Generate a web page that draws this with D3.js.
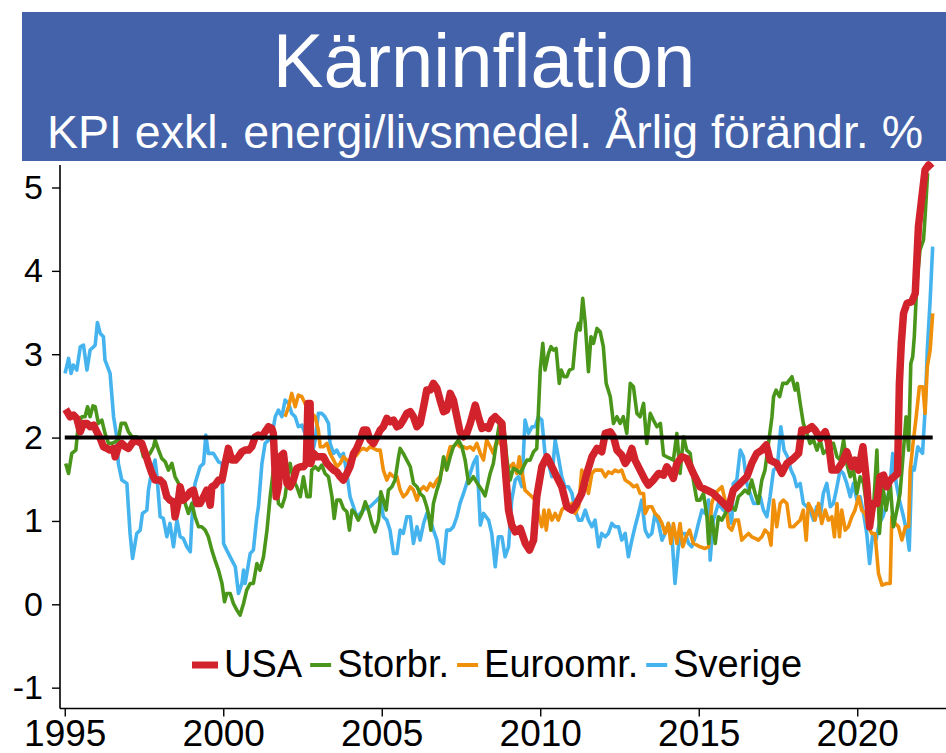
<!DOCTYPE html>
<html><head><meta charset="utf-8">
<script src="https://cdn.jsdelivr.net/npm/d3@7"></script>
<style>
html,body{margin:0;padding:0;background:#fff;}
svg{display:block;}
</style></head>
<body>
<svg id="chart" width="946" height="753"></svg>
<script>
const titleText = "Kärninflation";
const subtitleText = "KPI exkl. energi/livsmedel. Årlig förändr. %";
const seriesNames = ["USA", "Storbr.", "Euroomr.", "Sverige"];
const seriesColors = ["#D2232D", "#4A961A", "#F0900A", "#45B4EE"];
const yTicks = [-1, 0, 1, 2, 3, 4, 5];
const xTicks = [1995, 2000, 2005, 2010, 2015, 2020];
const targetValue = 2;
const targetRange = [1995.0, 2022.38];

// [decimal year, % y/y]
const usaData = [
[1995.03,2.34],[1995.17,2.25],[1995.27,2.27],[1995.38,2.23],[1995.49,2.07],[1995.59,2.17],[1995.70,2.17],[1995.80,2.13],[1995.91,2.15],
[1996.01,2.07],[1996.12,1.99],[1996.22,1.89],[1996.33,1.87],[1996.43,1.85],[1996.54,1.87],[1996.59,1.77],[1996.69,1.89],[1996.80,1.93],[1996.91,1.89],
[1997.01,1.87],[1997.12,1.93],[1997.22,1.97],[1997.32,1.95],[1997.43,1.93],[1997.54,1.81],[1997.64,1.69],[1997.75,1.57],[1997.85,1.49],
[1998.01,1.49],[1998.11,1.45],[1998.22,1.29],[1998.32,1.25],[1998.43,1.23],[1998.48,1.05],[1998.57,1.21],[1998.64,1.41],[1998.74,1.25],[1998.85,1.29],[1998.96,1.35],
[1999.06,1.37],[1999.17,1.21],[1999.27,1.21],[1999.38,1.29],[1999.48,1.37],[1999.59,1.19],[1999.64,1.41],[1999.74,1.43],[1999.85,1.49],[1999.96,1.49],
[2000.06,1.69],[2000.16,1.87],[2000.27,1.73],[2000.38,1.73],[2000.48,1.77],[2000.59,1.83],[2000.69,1.85],[2000.80,1.85],[2000.90,1.89],
[2001.01,2.01],[2001.11,2.03],[2001.22,2.01],[2001.32,2.07],[2001.43,2.13],[2001.53,2.11],[2001.58,2.05],[2001.67,1.29],[2001.74,1.41],[2001.79,1.77],[2001.90,1.81],
[2002.01,1.45],[2002.11,1.41],[2002.21,1.49],[2002.32,1.63],[2002.43,1.65],[2002.53,1.65],[2002.62,1.69],[2002.67,2.41],[2002.74,2.41],[2002.76,1.69],[2002.85,1.81],[2002.95,1.77],
[2003.06,1.77],[2003.16,1.77],[2003.27,1.69],[2003.37,1.65],[2003.48,1.61],[2003.58,1.59],[2003.69,1.53],[2003.79,1.49],[2003.90,1.57],
[2004.00,1.65],[2004.11,1.81],[2004.21,1.87],[2004.32,1.97],[2004.42,2.09],[2004.53,2.09],[2004.63,1.97],[2004.74,1.93],[2004.85,2.01],[2004.95,2.09],
[2005.05,2.13],[2005.16,2.23],[2005.26,2.19],[2005.37,2.21],[2005.48,2.13],[2005.58,2.15],[2005.68,2.21],[2005.79,2.29],[2005.90,2.31],
[2006.00,2.25],[2006.11,2.13],[2006.21,2.17],[2006.32,2.37],[2006.42,2.57],[2006.53,2.57],[2006.63,2.65],[2006.74,2.59],[2006.84,2.45],[2006.95,2.31],
[2007.05,2.33],[2007.16,2.53],[2007.26,2.45],[2007.37,2.25],[2007.47,2.07],[2007.58,2.01],[2007.68,2.05],[2007.79,2.17],[2007.95,2.39],
[2008.05,2.25],[2008.16,2.11],[2008.26,2.13],[2008.37,2.11],[2008.47,2.21],[2008.58,2.25],[2008.68,2.21],[2008.79,2.17],[2008.89,1.65],
[2009.00,1.13],[2009.10,0.95],[2009.21,0.87],[2009.37,0.91],[2009.53,0.73],[2009.66,0.65],[2009.79,0.77],[2009.89,1.29],
[2010.05,1.65],[2010.21,1.77],[2010.37,1.65],[2010.52,1.53],[2010.68,1.41],[2010.84,1.17],
[2011.00,1.13],[2011.15,1.21],[2011.31,1.33],[2011.47,1.57],[2011.63,1.77],[2011.79,1.87],[2011.94,1.83],
[2012.05,2.05],[2012.21,2.07],[2012.31,2.01],[2012.42,1.85],[2012.57,1.79],[2012.68,1.69],[2012.78,1.75],[2012.89,1.87],[2012.99,1.73],
[2013.15,1.61],[2013.31,1.49],[2013.41,1.43],[2013.57,1.49],[2013.73,1.57],[2013.89,1.55],[2013.99,1.65],
[2014.10,1.59],[2014.20,1.51],[2014.31,1.69],[2014.47,1.77],[2014.62,1.75],[2014.83,1.57],
[2015.04,1.41],[2015.26,1.37],[2015.46,1.33],[2015.68,1.25],[2015.94,1.15],
[2016.09,1.37],[2016.31,1.45],[2016.52,1.53],[2016.67,1.69],[2016.83,1.81],[2016.99,1.85],
[2017.13,1.91],[2017.25,1.73],[2017.46,1.69],[2017.62,1.57],[2017.78,1.69],[2017.99,1.75],
[2018.15,1.81],[2018.25,2.09],[2018.41,2.09],[2018.57,2.13],[2018.67,2.09],[2018.83,1.99],[2018.99,2.07],
[2019.09,1.95],[2019.20,1.61],[2019.36,1.61],[2019.51,1.69],[2019.67,1.83],[2019.83,1.65],[2019.93,1.73],
[2020.04,1.61],[2020.18,1.89],[2020.30,1.45],[2020.39,0.93],[2020.49,1.21],[2020.62,1.21],[2020.72,1.53],[2020.83,1.55],[2020.93,1.41],
[2021.04,1.49],[2021.16,1.53],[2021.27,1.57],[2021.33,2.65],[2021.39,3.13],[2021.46,3.49],[2021.57,3.61],[2021.72,3.63],[2021.83,3.73],[2021.93,4.53],
[2022.04,4.89],[2022.14,5.21],[2022.25,5.27],[2022.35,5.23]
];

const ukData = [
[1995.03,1.69],[1995.12,1.57],[1995.22,1.81],[1995.35,1.85],[1995.43,2.17],[1995.54,2.25],[1995.64,2.25],[1995.72,2.37],[1995.80,2.25],[1995.89,2.38],[1995.96,2.37],
[1996.06,2.17],[1996.17,2.21],[1996.27,2.05],[1996.38,1.93],[1996.49,1.93],[1996.59,1.95],[1996.69,1.97],[1996.78,2.17],[1996.91,2.17],
[1997.01,2.07],[1997.12,2.01],[1997.27,2.01],[1997.38,1.93],[1997.48,1.77],[1997.59,1.77],[1997.69,1.81],[1997.80,1.89],[1997.85,1.97],[1997.96,1.85],
[1998.06,1.75],[1998.17,1.71],[1998.27,1.61],[1998.38,1.69],[1998.48,1.53],[1998.59,1.45],[1998.69,1.33],[1998.80,1.21],[1998.90,1.09],
[1999.01,1.21],[1999.11,1.05],[1999.22,0.93],[1999.32,0.93],[1999.43,0.89],[1999.53,0.81],[1999.64,0.65],[1999.74,0.53],[1999.85,0.41],[1999.96,0.25],
[2000.04,0.03],[2000.11,0.13],[2000.22,0.13],[2000.32,0.01],[2000.43,-0.07],[2000.53,-0.13],[2000.64,0.01],[2000.74,0.17],[2000.85,0.25],[2000.95,0.25],
[2001.06,0.49],[2001.16,0.41],[2001.27,0.57],[2001.38,0.89],[2001.48,1.29],[2001.58,1.61],[2001.64,1.69],[2001.74,1.21],[2001.85,1.17],[2001.95,1.29],
[2002.06,1.61],[2002.11,1.69],[2002.21,1.49],[2002.32,1.41],[2002.43,1.29],[2002.53,1.53],[2002.64,1.29],[2002.74,1.29],[2002.79,1.61],[2002.90,1.65],
[2003.00,1.61],[2003.11,1.67],[2003.21,1.57],[2003.32,1.53],[2003.43,1.29],[2003.50,1.03],[2003.58,1.25],[2003.69,1.25],[2003.79,1.15],[2003.90,1.11],[2003.98,0.89],
[2004.06,1.13],[2004.16,1.09],[2004.26,1.01],[2004.37,1.09],[2004.48,1.23],[2004.58,1.13],[2004.69,0.97],[2004.79,0.87],[2004.90,1.01],[2004.97,1.35],
[2005.05,1.25],[2005.14,1.13],[2005.21,1.37],[2005.32,1.41],[2005.42,1.49],[2005.53,1.77],[2005.58,1.87],[2005.68,1.81],[2005.79,1.73],[2005.90,1.65],
[2006.00,1.45],[2006.11,1.41],[2006.21,1.33],[2006.32,1.29],[2006.42,1.17],[2006.47,1.09],[2006.55,0.89],[2006.63,1.21],[2006.74,1.37],[2006.84,1.49],[2006.95,1.77],
[2007.05,1.61],[2007.16,1.77],[2007.26,1.89],[2007.42,1.97],[2007.53,1.89],[2007.63,1.73],[2007.74,1.45],[2007.89,1.53],
[2008.05,1.43],[2008.16,1.37],[2008.26,1.30],[2008.42,1.57],[2008.52,1.69],[2008.63,1.97],[2008.73,2.21],[2008.84,2.17],[2008.95,1.73],
[2009.05,1.49],[2009.15,1.63],[2009.26,1.61],[2009.37,1.57],[2009.47,1.65],[2009.58,1.73],[2009.68,1.73],[2009.79,1.83],[2009.89,1.87],[2009.94,2.29],
[2010.00,2.81],[2010.08,3.13],[2010.15,2.81],[2010.26,3.01],[2010.34,3.09],[2010.42,3.05],[2010.50,3.07],[2010.60,2.65],[2010.66,2.81],[2010.75,2.73],[2010.84,2.73],[2010.92,2.81],
[2011.03,2.83],[2011.13,3.25],[2011.21,3.37],[2011.26,3.29],[2011.34,3.67],[2011.42,3.37],[2011.52,2.79],[2011.60,3.21],[2011.68,3.13],[2011.79,3.31],[2011.89,3.27],[2011.99,3.09],
[2012.08,2.65],[2012.21,2.49],[2012.31,2.17],[2012.42,2.25],[2012.52,2.17],[2012.62,2.25],[2012.73,2.05],[2012.84,2.65],[2012.94,2.61],
[2013.05,2.29],[2013.15,2.25],[2013.26,2.41],[2013.36,1.93],[2013.47,2.29],[2013.57,2.21],[2013.68,2.13],[2013.79,2.17],[2013.89,1.79],[2013.99,1.77],
[2014.10,1.75],[2014.20,1.73],[2014.31,2.05],[2014.41,1.57],[2014.52,2.01],[2014.62,1.85],[2014.73,1.81],[2014.83,1.49],[2014.94,1.25],
[2015.04,1.25],[2015.15,1.33],[2015.26,1.05],[2015.31,0.73],[2015.41,1.05],[2015.52,0.73],[2015.62,1.05],[2015.73,1.01],[2015.89,1.13],[2015.99,1.25],
[2016.04,1.17],[2016.15,1.13],[2016.25,1.29],[2016.36,1.33],[2016.46,1.37],[2016.57,1.33],[2016.67,1.49],[2016.78,1.33],[2016.88,1.21],[2016.99,1.49],
[2017.09,1.61],[2017.20,1.93],[2017.31,2.25],[2017.36,2.49],[2017.44,2.57],[2017.55,2.49],[2017.65,2.65],[2017.78,2.65],[2017.94,2.73],
[2018.04,2.57],[2018.11,2.65],[2018.20,2.41],[2018.30,2.17],[2018.41,2.05],[2018.51,1.93],[2018.62,1.97],[2018.73,1.85],[2018.83,1.97],[2018.93,1.81],
[2019.04,1.85],[2019.15,1.93],[2019.25,1.93],[2019.36,1.77],[2019.46,1.73],[2019.57,1.97],[2019.67,1.69],[2019.78,1.53],[2019.88,1.61],[2019.99,1.33],
[2020.09,1.53],[2020.20,1.45],[2020.30,1.17],[2020.41,1.05],[2020.51,1.13],[2020.62,1.85],[2020.70,0.85],[2020.81,1.41],[2020.91,1.13],
[2021.04,1.45],[2021.14,0.93],[2021.25,1.13],[2021.35,1.33],[2021.46,1.85],[2021.54,2.25],[2021.62,1.85],[2021.69,2.89],[2021.75,2.97],[2021.80,3.21],[2021.88,3.85],[2021.98,4.25],
[2022.09,4.37],[2022.14,4.65],[2022.22,5.17]
];

const euroData = [
[2001.95,2.25],[2002.06,2.37],[2002.16,2.53],[2002.27,2.37],[2002.37,2.51],[2002.48,2.49],[2002.58,2.41],[2002.69,2.33],[2002.79,2.29],[2002.90,2.25],
[2003.00,2.09],[2003.06,1.89],[2003.16,1.89],[2003.27,1.93],[2003.37,1.81],[2003.48,1.73],[2003.58,1.65],[2003.69,1.69],[2003.79,1.77],[2003.90,1.73],
[2004.00,1.69],[2004.11,1.77],[2004.21,1.79],[2004.32,1.85],[2004.42,1.87],[2004.53,1.85],[2004.63,1.89],[2004.74,1.87],[2004.85,1.85],[2004.95,1.85],
[2005.05,1.61],[2005.16,1.49],[2005.26,1.57],[2005.37,1.53],[2005.48,1.53],[2005.58,1.37],[2005.68,1.29],[2005.79,1.33],[2005.90,1.41],
[2006.00,1.37],[2006.11,1.25],[2006.21,1.37],[2006.32,1.41],[2006.42,1.37],[2006.53,1.45],[2006.63,1.41],[2006.74,1.49],[2006.84,1.53],[2006.95,1.69],
[2007.05,1.73],[2007.16,1.89],[2007.26,1.89],[2007.37,1.93],[2007.47,1.89],[2007.58,1.89],[2007.68,1.87],[2007.79,1.89],[2007.89,1.85],
[2008.00,1.93],[2008.11,1.81],[2008.21,1.73],[2008.31,1.97],[2008.42,1.89],[2008.52,1.81],[2008.63,1.97],[2008.73,1.93],[2008.84,1.89],[2008.95,1.65],
[2009.05,1.65],[2009.15,1.69],[2009.26,1.57],[2009.34,1.77],[2009.45,1.53],[2009.52,1.37],[2009.63,1.33],[2009.74,1.29],[2009.84,1.25],[2009.94,1.09],
[2010.05,0.93],[2010.12,1.13],[2010.19,0.89],[2010.27,1.13],[2010.37,1.01],[2010.47,1.09],[2010.57,1.01],[2010.68,1.13],[2010.78,1.17],[2010.89,1.13],
[2011.00,1.21],[2011.10,1.09],[2011.21,1.17],[2011.31,1.61],[2011.42,1.49],[2011.52,1.33],[2011.63,1.57],[2011.73,1.61],[2011.84,1.61],[2011.94,1.61],
[2012.05,1.53],[2012.15,1.59],[2012.26,1.57],[2012.36,1.61],[2012.47,1.59],[2012.57,1.61],[2012.68,1.49],[2012.84,1.45],[2012.94,1.41],
[2013.05,1.43],[2013.15,1.33],[2013.26,1.33],[2013.31,1.09],[2013.41,1.17],[2013.52,1.17],[2013.62,1.09],[2013.73,1.05],[2013.84,0.97],[2013.94,0.85],
[2014.04,0.97],[2014.12,0.73],[2014.20,0.97],[2014.31,0.73],[2014.41,0.97],[2014.50,0.69],[2014.60,0.81],[2014.71,0.89],[2014.83,0.73],[2014.94,0.71],
[2015.04,0.69],[2015.20,0.67],[2015.31,0.69],[2015.41,1.21],[2015.52,1.33],[2015.62,1.37],[2015.73,1.41],[2015.83,1.25],[2015.94,0.93],
[2016.04,0.89],[2016.15,1.01],[2016.25,1.01],[2016.36,0.77],[2016.46,0.81],[2016.57,0.85],[2016.67,0.81],[2016.78,0.79],[2016.88,0.77],[2016.99,0.81],
[2017.09,0.89],[2017.20,0.85],[2017.28,0.71],[2017.36,1.25],[2017.46,0.93],[2017.57,1.21],[2017.67,1.25],[2017.78,1.21],[2017.88,0.93],[2017.99,0.93],
[2018.09,0.97],[2018.20,1.01],[2018.30,1.13],[2018.39,0.77],[2018.46,1.21],[2018.57,1.13],[2018.67,1.01],[2018.78,1.21],[2018.88,0.97],[2018.99,1.13],
[2019.09,1.01],[2019.20,1.05],[2019.28,0.81],[2019.36,1.21],[2019.44,0.81],[2019.51,1.13],[2019.62,0.89],[2019.72,0.93],[2019.83,1.05],[2019.93,1.13],
[2020.04,1.29],[2020.14,1.13],[2020.25,1.09],[2020.35,0.93],[2020.46,0.85],[2020.56,0.85],[2020.67,0.37],[2020.78,0.23],[2020.93,0.25],
[2021.04,0.25],[2021.09,1.05],[2021.20,0.97],[2021.30,0.93],[2021.41,0.77],[2021.52,0.93],[2021.62,0.93],[2021.67,1.61],[2021.76,1.93],[2021.86,2.25],[2021.96,2.61],
[2022.07,2.61],[2022.14,2.29],[2022.21,2.85],[2022.30,3.05],[2022.38,3.49]
];

const sweData = [
[1995.01,2.77],[1995.12,2.95],[1995.20,2.77],[1995.27,2.87],[1995.38,2.81],[1995.49,3.09],[1995.59,3.11],[1995.70,2.81],[1995.80,3.05],[1995.91,3.09],[1995.96,3.11],
[1996.03,3.38],[1996.12,3.25],[1996.22,3.21],[1996.27,2.93],[1996.43,2.77],[1996.54,2.25],[1996.64,2.01],[1996.69,1.69],[1996.80,1.49],[1996.96,1.45],
[1997.06,0.85],[1997.14,0.55],[1997.27,0.85],[1997.38,0.89],[1997.45,1.09],[1997.59,1.13],[1997.64,1.37],[1997.75,1.61],[1997.85,1.73],[1997.91,1.53],
[1998.01,1.05],[1998.11,1.03],[1998.22,0.81],[1998.32,0.97],[1998.43,0.69],[1998.54,1.01],[1998.64,0.81],[1998.74,0.79],[1998.85,0.69],[1998.96,0.63],
[1999.01,1.01],[1999.11,1.45],[1999.27,1.65],[1999.38,1.69],[1999.45,2.03],[1999.53,1.81],[1999.69,1.81],[1999.85,1.71],[1999.96,1.69],
[2000.01,0.73],[2000.11,0.65],[2000.27,0.53],[2000.38,0.45],[2000.48,0.13],[2000.59,0.25],[2000.64,0.41],[2000.69,0.25],[2000.85,0.61],[2000.95,0.65],
[2001.06,1.05],[2001.11,1.17],[2001.22,1.69],[2001.32,1.93],[2001.43,1.97],[2001.53,2.01],[2001.64,2.25],[2001.74,2.33],[2001.85,2.25],[2001.95,2.45],
[2002.06,2.41],[2002.16,2.29],[2002.27,2.25],[2002.37,2.13],[2002.48,2.15],[2002.58,2.05],[2002.69,1.85],[2002.79,1.77],[2002.90,1.97],
[2003.00,2.29],[2003.11,2.29],[2003.21,2.25],[2003.32,2.17],[2003.37,1.93],[2003.48,1.81],[2003.58,1.85],[2003.69,1.77],[2003.79,1.81],[2003.90,1.57],
[2004.00,1.29],[2004.11,1.17],[2004.21,1.05],[2004.32,1.09],[2004.42,1.13],[2004.53,1.17],[2004.63,1.17],[2004.74,1.21],[2004.85,1.25],[2004.95,1.29],
[2005.05,1.05],[2005.16,1.01],[2005.26,0.89],[2005.37,0.61],[2005.48,0.61],[2005.58,0.89],[2005.68,0.85],[2005.79,1.05],[2005.90,1.05],
[2006.00,0.73],[2006.11,0.93],[2006.21,0.77],[2006.32,0.97],[2006.42,1.09],[2006.53,1.01],[2006.63,0.89],[2006.74,0.77],[2006.84,0.53],[2006.95,0.49],
[2007.05,0.89],[2007.16,0.89],[2007.26,0.93],[2007.37,1.05],[2007.47,1.21],[2007.58,1.33],[2007.68,1.45],[2007.79,1.57],[2007.89,1.69],
[2008.00,1.77],[2008.11,0.95],[2008.21,1.09],[2008.37,1.01],[2008.47,0.85],[2008.58,0.45],[2008.68,0.81],[2008.79,0.81],[2008.89,0.57],
[2009.00,0.69],[2009.10,1.25],[2009.21,1.49],[2009.31,1.53],[2009.42,1.41],[2009.52,2.21],[2009.63,2.05],[2009.74,2.13],[2009.84,2.13],[2009.94,2.25],
[2010.05,2.21],[2010.15,1.81],[2010.26,1.69],[2010.37,1.53],[2010.47,1.97],[2010.57,1.77],[2010.68,1.53],[2010.78,1.41],[2010.89,1.41],
[2011.00,1.33],[2011.10,1.13],[2011.21,1.01],[2011.31,1.01],[2011.42,1.13],[2011.52,1.01],[2011.63,0.93],[2011.73,1.01],[2011.84,0.69],[2011.94,0.85],
[2012.05,0.81],[2012.15,0.85],[2012.26,0.97],[2012.36,0.93],[2012.47,0.93],[2012.57,0.77],[2012.68,0.85],[2012.78,0.57],[2012.89,0.77],[2012.99,0.93],
[2013.10,1.09],[2013.20,1.25],[2013.31,0.89],[2013.41,0.81],[2013.52,0.85],[2013.62,1.09],[2013.73,0.97],[2013.84,0.77],[2013.94,0.85],
[2014.04,0.97],[2014.15,0.85],[2014.25,0.25],[2014.36,0.69],[2014.47,0.85],[2014.57,0.85],[2014.68,0.73],[2014.78,0.69],[2014.89,0.81],[2014.99,0.97],
[2015.10,1.13],[2015.20,1.09],[2015.31,1.25],[2015.36,0.53],[2015.46,1.01],[2015.62,1.21],[2015.78,1.13],[2015.94,1.09],
[2016.04,0.97],[2016.09,1.45],[2016.20,1.49],[2016.31,1.85],[2016.41,1.77],[2016.52,1.45],[2016.62,1.33],[2016.73,1.21],[2016.83,1.21],[2016.94,1.29],
[2017.04,1.13],[2017.15,1.05],[2017.25,1.29],[2017.36,1.61],[2017.48,1.65],[2017.59,2.13],[2017.69,1.85],[2017.80,1.77],[2017.91,1.61],
[2018.01,1.53],[2018.09,1.41],[2018.20,1.45],[2018.30,1.21],[2018.41,1.17],[2018.51,1.13],[2018.62,1.01],[2018.72,1.17],[2018.83,1.05],[2018.93,1.33],
[2019.04,1.45],[2019.15,1.17],[2019.25,1.21],[2019.36,1.41],[2019.46,1.61],[2019.56,1.57],[2019.67,1.45],[2019.78,1.29],[2019.88,1.45],[2019.99,1.25],
[2020.09,1.29],[2020.20,1.09],[2020.30,0.85],[2020.39,0.49],[2020.49,0.85],[2020.59,0.77],[2020.70,0.97],[2020.81,1.05],[2020.93,1.21],
[2021.04,1.45],[2021.12,1.81],[2021.23,1.45],[2021.33,1.25],[2021.46,1.05],[2021.57,0.85],[2021.64,0.65],[2021.72,1.65],[2021.80,1.61],[2021.91,1.89],[2021.98,1.85],
[2022.06,1.81],[2022.14,2.33],[2022.21,3.05],[2022.30,3.65],[2022.38,4.29]
];

const allSeries = [usaData, ukData, euroData, sweData];

const W = 946, H = 753;
const svg = d3.select("#chart");

const x = d3.scaleLinear().domain([1994.85, 2022.8]).range([60, 946]);
const y = d3.scaleLinear().domain([-1.25, 5.27]).range([708.5, 165]);

// title box
svg.append("rect").attr("x", 22).attr("y", 12).attr("width", W - 22).attr("height", 149).attr("fill", "#4462A9");
svg.append("text").attr("x", 484).attr("y", 87).attr("text-anchor", "middle")
  .attr("font-family", "'Liberation Sans', Arial, sans-serif").attr("font-size", 76).attr("fill", "#fff")
  .text(titleText);
svg.append("text").attr("x", 485).attr("y", 148).attr("text-anchor", "middle")
  .attr("font-family", "'Liberation Sans', Arial, sans-serif").attr("font-size", 46.5).attr("fill", "#fff")
  .text(subtitleText);

// clip
svg.append("defs").append("clipPath").attr("id", "plotclip")
  .append("rect").attr("x", 60).attr("y", 161).attr("width", W - 60).attr("height", 708.5 - 161);

const line = d3.line().x(d => x(d[0])).y(d => y(d[1])).curve(d3.curveLinear);

const g = svg.append("g").attr("clip-path", "url(#plotclip)");
const drawOrder = [3, 2, 1, 0];
drawOrder.forEach(i => {
  g.append("path").datum(allSeries[i])
    .attr("fill", "none")
    .attr("stroke", seriesColors[i])
    .attr("stroke-width", i === 0 ? 7.5 : 3.6)
    .attr("stroke-linejoin", "round")
    .attr("stroke-linecap", "butt")
    .attr("d", line);
});

// target line
g.append("line")
  .attr("x1", x(targetRange[0])).attr("x2", x(targetRange[1]))
  .attr("y1", y(targetValue)).attr("y2", y(targetValue))
  .attr("stroke", "#000").attr("stroke-width", 4);

// y axis
const yAxis = d3.axisLeft(y).tickValues(yTicks).tickSize(8).tickPadding(9).tickFormat(d => String(d));
const gy = svg.append("g").attr("transform", "translate(60,0)").call(yAxis);
gy.select(".domain").attr("d", `M0,${y.range()[1]}V${y.range()[0]}`).attr("stroke", "#000").attr("stroke-width", 1.6);
gy.selectAll(".tick line").attr("stroke", "#000").attr("stroke-width", 1.4);
gy.selectAll(".tick text").attr("font-family", "'Liberation Sans', Arial, sans-serif").attr("font-size", 34).attr("fill", "#000");

// x axis
const xAxis = d3.axisBottom(x).tickValues(xTicks).tickSize(8).tickPadding(3).tickFormat(d => String(d));
const gx = svg.append("g").attr("transform", "translate(0,708.5)").call(xAxis);
gx.select(".domain").attr("d", `M${x.range()[0]},0H${x.range()[1]}`).attr("stroke", "#000").attr("stroke-width", 1.6);
gx.selectAll(".tick line").attr("stroke", "#000").attr("stroke-width", 1.4);
gx.selectAll(".tick text").attr("font-family", "'Liberation Sans Narrow', 'Arial Narrow', 'Liberation Sans', sans-serif")
  .attr("font-size", 37).attr("fill", "#000");

// legend
const legend = svg.append("g");
let lx = 192;
const legendBase = 677;
seriesNames.forEach((name, i) => {
  const sw = i === 0 ? 26 : 21;
  legend.append("line").attr("x1", lx).attr("x2", lx + sw).attr("y1", 665).attr("y2", 665)
    .attr("stroke", seriesColors[i]).attr("stroke-width", i === 0 ? 7 : 4);
  const t = legend.append("text").attr("x", lx + sw + 6).attr("y", legendBase)
    .attr("font-family", "'Liberation Sans', Arial, sans-serif").attr("font-size", 38).attr("fill", "#000")
    .text(name);
  lx += sw + 6 + t.node().getComputedTextLength() + 8;
});
</script>
</body></html>
